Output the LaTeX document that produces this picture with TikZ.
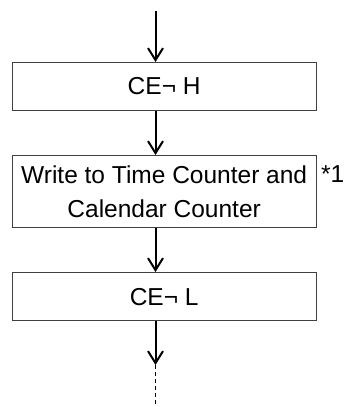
\documentclass[tikz,border=0pt]{standalone}
\usepackage{fontspec}
\setmainfont{Liberation Sans}
\usetikzlibrary{arrows.meta}
\begin{document}
\begin{tikzpicture}[x=1pt,y=-1pt,
  box/.style={draw=black!75,line width=1.3pt,minimum width=304pt,inner sep=0pt,
    font=\fontsize{24.5}{34}\selectfont,align=center,anchor=north west},
  flow/.style={line width=2pt,-{Straight Barb[length=12pt,width=15pt,line width=2pt]}},
  tail/.style={line width=1.5pt,dash pattern=on 4pt off 3pt}]
\useasboundingbox (0,0) rectangle (345,407);
\node[box,minimum height=47.5pt] (b1) at (11.5,62) {CE¬ H};
\node[box,minimum height=72pt] (b2) at (11.5,155) {Write to Time Counter and\\Calendar Counter};
\node[box,minimum height=48pt] (b3) at (11.5,272) {CE¬ L};
\node[anchor=base west,inner sep=0pt,font=\fontsize{24.5}{28}\selectfont] (n1) at (321,182) {*1};
\coordinate (s0) at (155.5,11);
\coordinate (t3) at (155.5,365);
\coordinate (e3) at (155.5,407);
\draw[flow] (s0) -- (s0 |- b1.north);
\draw[flow] (s0 |- b1.south) -- (s0 |- b2.north);
\draw[flow] (s0 |- b2.south) -- (s0 |- b3.north);
\draw[flow] (s0 |- b3.south) -- (t3);
\draw[tail] (t3) -- (e3);
\end{tikzpicture}
\end{document}
